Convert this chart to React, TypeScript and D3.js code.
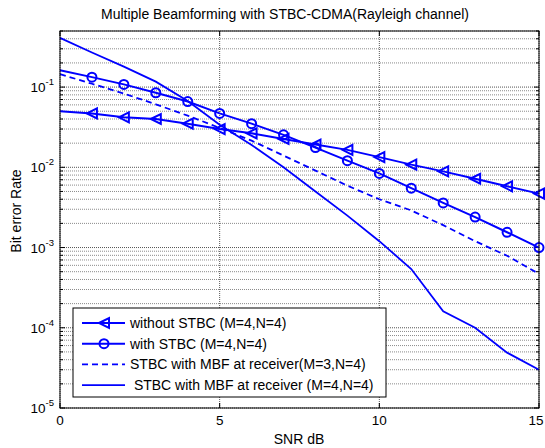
import React from 'react'
import * as d3 from 'd3'

// SNR (dB) and bit error rates
const snr = [0, 1, 2, 3, 4, 5, 6, 7, 8, 9, 10, 11, 12, 13, 14, 15]
const withoutStbc = [0.05, 0.047, 0.042, 0.04, 0.035, 0.03, 0.0265, 0.0226, 0.0192, 0.0165, 0.0134, 0.0108, 0.0089, 0.0072, 0.0058, 0.0047]
const withStbc = [0.162, 0.133, 0.108, 0.085, 0.066, 0.047, 0.035, 0.0254, 0.0176, 0.0121, 0.0084, 0.0055, 0.0036, 0.0024, 0.00155, 0.001]
const mbfM3 = [0.145, 0.11, 0.083, 0.061, 0.044, 0.031, 0.0215, 0.014, 0.0091, 0.0059, 0.004, 0.0029, 0.0019, 0.0012, 0.00079, 0.00047]
const mbfM4 = [0.41, 0.27, 0.18, 0.117, 0.067, 0.034, 0.019, 0.01, 0.005, 0.0025, 0.0012, 0.00054, 0.00016, 0.0001, 0.000049, 0.00003]

const xTicks = [0, 5, 10, 15]
const yDecades = [-5, -4, -3, -2, -1]
const legendLabels = [
  'without STBC (M=4,N=4)',
  'with STBC (M=4,N=4)',
  'STBC with MBF at receiver(M=3,N=4)',
  ' STBC with MBF at receiver (M=4,N=4)',
]

const W = 545
const H = 448
const plot = { left: 60, right: 539, top: 31, bottom: 408 }
const blue = '#0000ff'
const font = 'Liberation Sans, Arial, Helvetica, sans-serif'

const App = () => {
  const x = d3.scaleLinear().domain([0, 15]).range([plot.left, plot.right])
  const y = d3.scaleLog().domain([1e-5, 0.5]).range([plot.bottom, plot.top])

  const line = d3.line<number>().x((d, i) => x(snr[i])).y(d => y(d))

  // minor grid values 2..9 x decade
  let minor: number[] = []
  yDecades.forEach(e => {
    for (let k = 2; k <= 9; k++) {
      let v = k * Math.pow(10, e)
      if (v <= 0.5) minor.push(v)
    }
  })

  const tri = (cx: number, cy: number, r = 5) =>
    `M${cx - r},${cy} L${cx + r},${cy - r} L${cx + r},${cy + r} Z`

  const legendY = (i: number) => 323 + i * 20.7

  return (
    <svg width={W} height={H} style={{ position: 'absolute', left: 0, top: 0, background: '#fff' }}
      fontFamily={font}>
      <rect x={0} y={0} width={W} height={H} fill="#fff" />

      {/* grid */}
      {minor.map((v, i) => (
        <line key={'mg' + i} x1={plot.left} x2={plot.right} y1={y(v)} y2={y(v)}
          stroke="#8a8a8a" strokeDasharray="1,1" />
      ))}
      {yDecades.map(e => (
        <line key={'yg' + e} x1={plot.left} x2={plot.right} y1={y(Math.pow(10, e))} y2={y(Math.pow(10, e))}
          stroke="#555" strokeDasharray="1,1" />
      ))}
      {xTicks.map(t => (
        <line key={'xg' + t} x1={x(t)} x2={x(t)} y1={plot.top} y2={plot.bottom}
          stroke="#555" strokeDasharray="1,1" />
      ))}

      {/* ticks */}
      {minor.map((v, i) => (
        <g key={'mt' + i} stroke="#000">
          <line x1={plot.left} x2={plot.left + 3} y1={y(v)} y2={y(v)} />
          <line x1={plot.right} x2={plot.right - 3} y1={y(v)} y2={y(v)} />
        </g>
      ))}
      {yDecades.map(e => (
        <g key={'yt' + e} stroke="#000">
          <line x1={plot.left} x2={plot.left + 5} y1={y(Math.pow(10, e))} y2={y(Math.pow(10, e))} />
          <line x1={plot.right} x2={plot.right - 5} y1={y(Math.pow(10, e))} y2={y(Math.pow(10, e))} />
        </g>
      ))}
      {xTicks.map(t => (
        <g key={'xt' + t} stroke="#000">
          <line x1={x(t)} x2={x(t)} y1={plot.bottom} y2={plot.bottom - 5} />
          <line x1={x(t)} x2={x(t)} y1={plot.top} y2={plot.top + 5} />
        </g>
      ))}

      {/* series */}
      <g fill="none" stroke={blue}>
        <path d={line(withoutStbc) || ''} strokeWidth={2} />
        {withoutStbc.map((v, i) => i > 0 && (
          <path key={'tm' + i} d={tri(x(snr[i]), y(v))} strokeWidth={2} />
        ))}
        <path d={line(withStbc) || ''} strokeWidth={2} />
        {withStbc.map((v, i) => i > 0 && (
          <circle key={'cm' + i} cx={x(snr[i])} cy={y(v)} r={4.5} strokeWidth={2} />
        ))}
        <path d={line(mbfM3) || ''} strokeWidth={1.8} strokeDasharray="6,4" />
        <path d={line(mbfM4) || ''} strokeWidth={1.8} />
      </g>

      {/* axes box */}
      <rect x={plot.left} y={plot.top} width={plot.right - plot.left} height={plot.bottom - plot.top}
        fill="none" stroke="#000" strokeWidth={1} />

      {/* tick labels */}
      {xTicks.map(t => (
        <text key={'xl' + t} x={Math.min(x(t), W - 9)} y={425} textAnchor="middle" fontSize={13.5}>{t}</text>
      ))}
      {yDecades.map(e => (
        <text key={'yl' + e} x={54} y={y(Math.pow(10, e)) + 5} textAnchor="end" fontSize={13.5}>
          10<tspan dy={-7} fontSize={9.5}>{e}</tspan>
        </text>
      ))}

      {/* labels */}
      <text x={285} y={19} textAnchor="middle" fontSize={14}>
        Multiple Beamforming with STBC-CDMA(Rayleigh channel)
      </text>
      <text x={299} y={444} textAnchor="middle" fontSize={14}>SNR dB</text>
      <text transform="translate(21,211) rotate(-90)" textAnchor="middle" fontSize={14}>Bit error Rate</text>

      {/* legend */}
      <rect x={73} y={308} width={313} height={89} fill="#fff" stroke="#000" strokeWidth={1} />
      <g fill="none" stroke={blue}>
        <line x1={82} x2={125} y1={legendY(0)} y2={legendY(0)} strokeWidth={2} />
        <path d={tri(104, legendY(0))} strokeWidth={2} />
        <line x1={82} x2={125} y1={legendY(1)} y2={legendY(1)} strokeWidth={2} />
        <circle cx={104} cy={legendY(1)} r={4.5} strokeWidth={2} />
        <line x1={82} x2={125} y1={legendY(2)} y2={legendY(2)} strokeWidth={1.8} strokeDasharray="6,4" />
        <line x1={82} x2={125} y1={legendY(3)} y2={legendY(3)} strokeWidth={1.8} />
      </g>
      {legendLabels.map((l, i) => (
        <text key={'lg' + i} x={130} y={legendY(i) + 5} fontSize={14} style={{ whiteSpace: 'pre' }}>{l}</text>
      ))}
    </svg>
  )
}

export default App
